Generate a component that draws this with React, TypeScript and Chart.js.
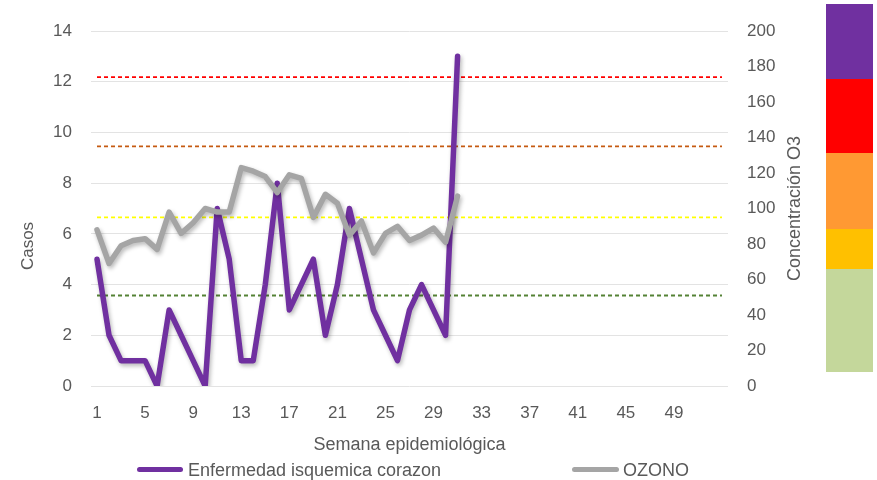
import React, { useEffect, useRef } from 'react';
import { Chart, registerables } from 'chart.js';

Chart.register(...registerables);

// ---- data ----
const weeks = ['1','2','3','4','5','6','7','8','9','10','11','12','13','14','15','16','17','18','19','20','21','22','23','24','25','26','27','28','29','30','31','32','33','34','35','36','37','38','39','40','41','42','43','44','45','46','47','48','49','50','51','52','53'];
const casos = [5, 2, 1, 1, 1, 0, 3, 2, 1, 0, 7, 5, 1, 1, 4, 8, 3, 4, 5, 2, 4, 7, 5, 3, 2, 1, 3, 4, 3, 2, 13];
const ozono = [88, 69, 79, 82, 83, 77, 98, 86, 92, 100, 98, 98, 123, 121, 118, 109, 119, 117, 95, 108, 103, 85, 93, 75, 86, 90, 82, 85, 89, 81, 107];
const thresholdValues = [174, 135, 95, 51];
const leftTicks = { min: 0, max: 14, step: 2 };
const rightTicks = { min: 0, max: 200, step: 20 };
const seriesNames = ['Enfermedad isquemica corazon', 'OZONO'];
const colorScale = ['#7030A0', '#FF0000', '#FF9933', '#FFC000', '#C4D79B'];

// ---- styles ----
const FONT = "'Liberation Sans', Arial, sans-serif";
const TEXT = '#595959';
const PURPLE = '#7030A0';
const GRAY = '#A5A5A5';
const thresholdColors = ['#FF0000', '#C55A11', '#FFFF00', '#548235'];
const colorScaleHeights = [75, 74, 76, 40, 103];

const shadowPlugin = {
  id: 'lineShadow',
  beforeDatasetDraw(chart: any, args: any) {
    if (args.index > 1) return;
    const c = chart.ctx;
    c.save();
    c.shadowColor = 'rgba(0,0,0,0.28)';
    c.shadowBlur = 4;
    c.shadowOffsetX = 1.5;
    c.shadowOffsetY = 2.5;
  },
  afterDatasetDraw(chart: any, args: any) {
    if (args.index > 1) return;
    chart.ctx.restore();
  },
};

const axisTitlesPlugin = {
  id: 'axisTitles',
  afterDraw(chart: any) {
    const { ctx, chartArea } = chart;
    ctx.save();
    ctx.fillStyle = TEXT;
    ctx.textAlign = 'center';
    ctx.textBaseline = 'middle';
    ctx.font = `17px ${FONT}`;
    ctx.save();
    ctx.translate(28, 246);
    ctx.rotate(-Math.PI / 2);
    ctx.fillText('Casos', 0, 0);
    ctx.restore();
    ctx.font = `18px ${FONT}`;
    ctx.save();
    ctx.translate(795, (chartArea.top + chartArea.bottom) / 2);
    ctx.rotate(-Math.PI / 2);
    ctx.fillText('Concentración O3', 0, 0);
    ctx.restore();
    ctx.restore();
  },
};

export default function App() {
  const ref = useRef<HTMLCanvasElement | null>(null);

  useEffect(() => {
    if (!ref.current) return;
    const tickFont = { family: FONT, size: 17 };
    const chart = new Chart(ref.current, {
      type: 'line',
      data: {
        labels: weeks,
        datasets: [
          {
            label: seriesNames[0],
            data: casos,
            yAxisID: 'y',
            borderColor: PURPLE,
            backgroundColor: PURPLE,
            borderWidth: 5.5,
            pointRadius: 0,
            borderCapStyle: 'round',
            borderJoinStyle: 'round',
            tension: 0,
            order: 2,
          },
          {
            label: seriesNames[1],
            data: ozono,
            yAxisID: 'y1',
            borderColor: GRAY,
            backgroundColor: GRAY,
            borderWidth: 5.5,
            pointRadius: 0,
            borderCapStyle: 'round',
            borderJoinStyle: 'round',
            tension: 0,
            order: 1,
          },
          ...thresholdValues.map((v, i) => ({
            label: 'umbral ' + v,
            data: [
              { x: weeks[0], y: v },
              { x: weeks[weeks.length - 1], y: v },
            ],
            yAxisID: 'y1',
            borderColor: thresholdColors[i],
            borderWidth: 1.8,
            borderDash: [4, 3],
            pointRadius: 0,
            order: 3,
          })),
        ] as any,
      },
      options: {
        animation: false,
        responsive: false,
        devicePixelRatio: 1,
        layout: { padding: { top: 31, bottom: 24, left: 0, right: 0 } },
        plugins: {
          legend: { display: false },
          tooltip: { enabled: false },
        },
        scales: {
          x: {
            type: 'category',
            offset: true,
            grid: { display: false, drawTicks: false },
            border: { display: false },
            ticks: {
              autoSkip: false,
              maxRotation: 0,
              minRotation: 0,
              padding: 17,
              color: TEXT,
              font: tickFont,
              callback: (_v: any, i: number) => (i % 4 === 0 && i < 52 ? weeks[i] : ''),
            },
            title: {
              display: true,
              text: 'Semana epidemiológica',
              color: TEXT,
              font: { family: FONT, size: 18 },
              padding: { top: -6, bottom: 0 },
            },
          },
          y: {
            position: 'left',
            min: leftTicks.min,
            max: leftTicks.max,
            ticks: { stepSize: leftTicks.step, padding: 19, color: TEXT, font: tickFont },
            grid: { color: '#E3E3E3', drawTicks: false, lineWidth: 1 },
            border: { display: false },
            afterFit: (s: any) => { s.width = 91; },
          },
          y1: {
            position: 'right',
            min: rightTicks.min,
            max: rightTicks.max,
            ticks: { stepSize: rightTicks.step, padding: 19, color: TEXT, font: tickFont },
            grid: { display: false, drawTicks: false },
            border: { display: false },
            afterFit: (s: any) => { s.width = 92; },
          },
        },
      } as any,
      plugins: [shadowPlugin, axisTitlesPlugin],
    });
    return () => chart.destroy();
  }, []);

  const legendText: React.CSSProperties = {
    position: 'absolute',
    top: 459,
    height: 22,
    lineHeight: '22px',
    fontFamily: FONT,
    fontSize: 18,
    color: TEXT,
    whiteSpace: 'nowrap',
  };
  const sample = (color: string, left: number, width: number): React.CSSProperties => ({
    position: 'absolute',
    left,
    top: 467,
    width,
    height: 5,
    borderRadius: 3,
    background: color,
  });

  return (
    <div style={{ position: 'fixed', left: 0, top: 0, width: 877, height: 480, background: '#fff', overflow: 'hidden' }}>
      <canvas ref={ref} width={820} height={480} style={{ position: 'absolute', left: 0, top: 0, width: 820, height: 480 }} />
      <div style={sample(PURPLE, 137, 46)} />
      <div style={{ ...legendText, left: 188 }}>{seriesNames[0]}</div>
      <div style={sample(GRAY, 572, 47)} />
      <div style={{ ...legendText, left: 623 }}>{seriesNames[1]}</div>
      <div style={{ position: 'absolute', left: 826, top: 4, width: 47, display: 'flex', flexDirection: 'column' }}>
        {colorScale.map((c, i) => (
          <div key={i} style={{ height: colorScaleHeights[i], background: c }} />
        ))}
      </div>
    </div>
  );
}
